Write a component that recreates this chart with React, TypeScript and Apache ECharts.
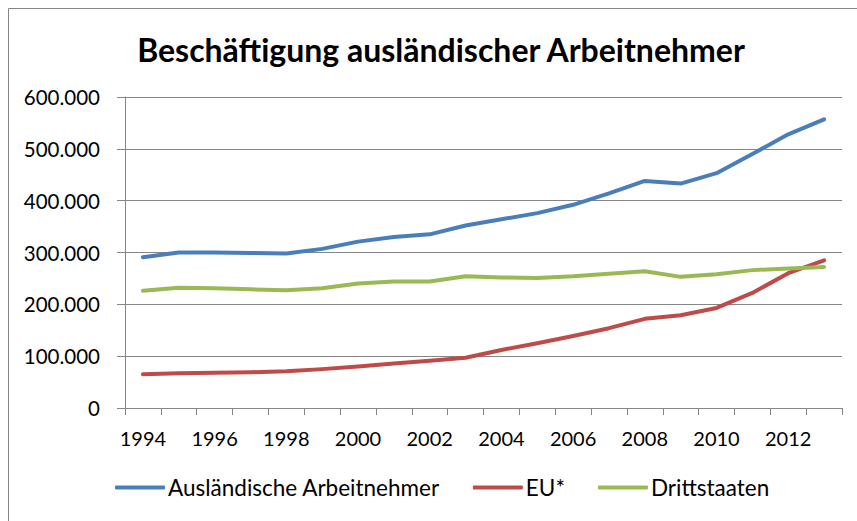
import React, { useEffect, useRef } from "react";
import * as echarts from "echarts";

const years = ["1994","1995","1996","1997","1998","1999","2000","2001","2002","2003","2004","2005","2006","2007","2008","2009","2010","2011","2012","2013"];
const auslaender = [291000,300000,300000,299000,298000,307000,321000,330000,335000,352000,364000,376000,392000,414000,438000,433000,453000,490000,528000,557000];
const eu = [65000,67000,68000,69000,71000,75000,80000,86000,91000,97000,112000,125000,139000,154000,172000,179000,193000,222000,260000,285000];
const dritt = [226000,232000,231000,229000,227000,231000,240000,244000,244000,254000,252000,251000,254000,259000,264000,253000,258000,266000,269000,272000];
const seriesNames = ["Ausländische Arbeitnehmer", "EU*", "Drittstaaten"];
const colors = ["#4A7EBB", "#BE4B48", "#98B954"];

const FONT = "Lato, 'Open Sans', sans-serif";

export default function App() {
  const ref = useRef<HTMLDivElement>(null);
  useEffect(() => {
    if (!ref.current) return;
    const chart = echarts.init(ref.current, null, { renderer: "svg" });
    const fmt = (v: number) => (v === 0 ? "0" : String(v).replace(/\B(?=(\d{3})+(?!\d))/g, "."));
    const dataSets = [auslaender, eu, dritt];
    chart.setOption({
      animation: false,
      backgroundColor: "#ffffff",
      textStyle: { fontFamily: FONT },
      title: {
        text: "Beschäftigung ausländischer Arbeitnehmer",
        left: 436,
        textAlign: "center",
        top: 28,
        textStyle: { fontFamily: FONT, fontSize: 32, fontWeight: "bold", color: "#000" },
      },
      graphic: [
        {
          type: "rect",
          shape: { x: 8.5, y: 8.5, width: 900, height: 600 },
          style: { fill: "none", stroke: "#868686", lineWidth: 1 },
          silent: true,
          z: -1,
        },
      ],
      legend: {
        bottom: 17,
        left: 110,
        itemWidth: 50,
        itemHeight: 4,
        itemGap: 33,
        icon: "roundRect",
        textStyle: { fontFamily: FONT, fontSize: 22.5, color: "#000", padding: [0, 0, 0, -2] },
        data: seriesNames,
      },
      grid: { left: 125, right: 15, top: 97, bottom: 113, containLabel: false },
      xAxis: {
        type: "category",
        data: years,
        boundaryGap: true,
        axisLine: { lineStyle: { color: "#868686", width: 1 } },
        axisTick: { show: true, interval: 0, length: 7, lineStyle: { color: "#868686" } },
        axisLabel: { interval: 1, fontSize: 20, color: "#000", margin: 20, fontFamily: FONT },
        splitLine: { show: false },
      },
      yAxis: {
        type: "value",
        min: 0,
        max: 600000,
        interval: 100000,
        axisLine: { show: true, lineStyle: { color: "#868686", width: 1 } },
        axisTick: { show: true, length: 8, lineStyle: { color: "#868686" } },
        axisLabel: { fontSize: 20.5, color: "#000", margin: 25, formatter: fmt, fontFamily: FONT },
        splitLine: { show: true, lineStyle: { color: "#868686", width: 1 } },
      },
      series: seriesNames.map((name, i) => ({
        name,
        type: "line",
        data: dataSets[i],
        symbol: "none",
        smooth: false,
        lineStyle: { color: colors[i], width: 4, cap: "round", join: "round" },
        itemStyle: { color: colors[i] },
      })),
    });
    return () => chart.dispose();
  }, []);
  return <div ref={ref} style={{ width: 857, height: 521, position: "absolute", left: 0, top: 0 }} />;
}
